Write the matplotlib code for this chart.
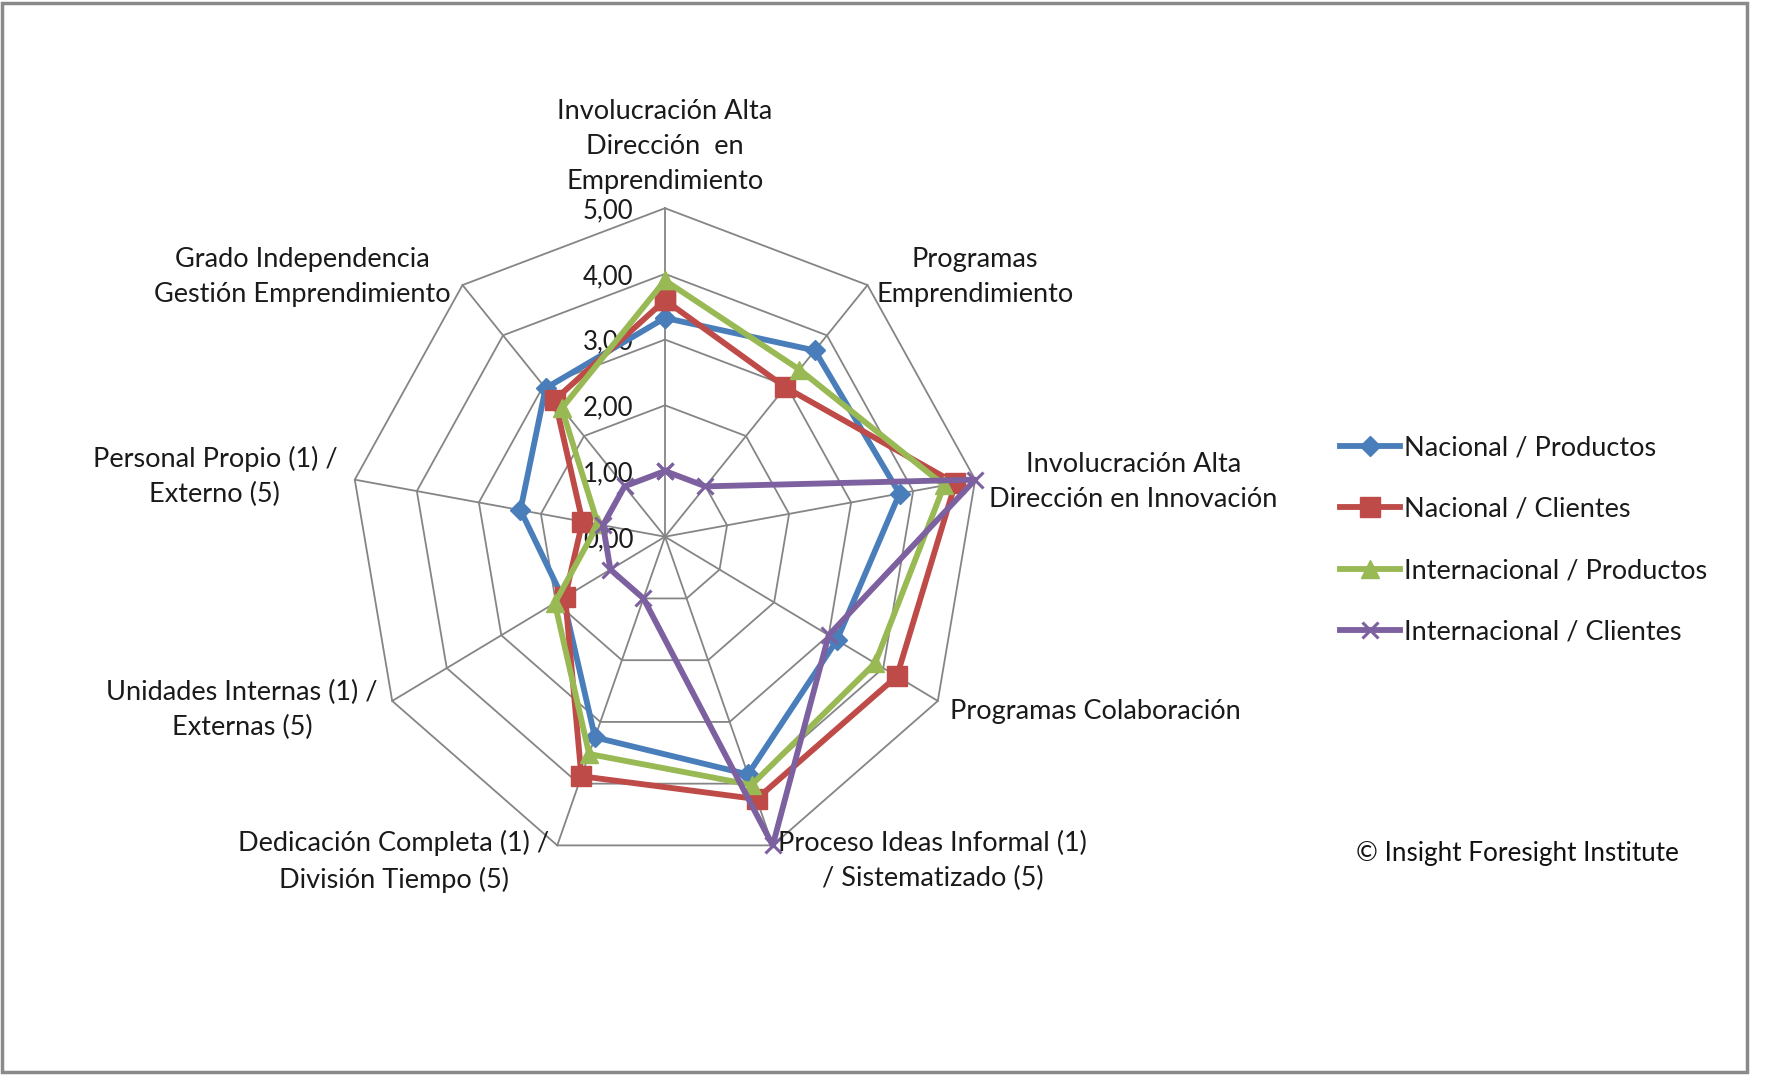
import numpy as np
import matplotlib
matplotlib.use('Agg')
import matplotlib.pyplot as plt
from matplotlib.patches import Rectangle

matplotlib.rcParams['font.family'] = ['Lato', 'DejaVu Sans']

# axes of the radar, clockwise from the top
categories = ["Involucración Alta\nDirección  en\nEmprendimiento",
              "Programas\nEmprendimiento",
              "Involucración Alta\nDirección en Innovación",
              "Programas Colaboración",
              "Proceso Ideas Informal (1)\n/ Sistematizado (5)",
              "Dedicación Completa (1) /\nDivisión Tiempo (5)",
              "Unidades Internas (1) /\nExternas (5)",
              "Personal Propio (1) /\nExterno (5)",
              "Grado Independencia\nGestión Emprendimiento"]

nacional_productos = [3.33, 3.70, 3.78, 3.15, 3.85, 3.25, 1.87, 2.33, 2.95]
nacional_clientes = [3.60, 2.97, 4.68, 4.25, 4.25, 3.88, 1.83, 1.33, 2.72]
internacional_productos = [3.90, 3.32, 4.50, 3.85, 4.02, 3.52, 2.02, 1.08, 2.55]
internacional_clientes = [1.00, 1.00, 5.00, 3.00, 5.00, 1.00, 1.00, 1.00, 1.00]

series_names = ["Nacional / Productos", "Nacional / Clientes",
                "Internacional / Productos", "Internacional / Clientes"]

ticks = [0, 1, 2, 3, 4, 5]
tick_labels = ["0,00", "1,00", "2,00", "3,00", "4,00", "5,00"]

W, H = 1779, 1075
cx, cy = 665, 538.3      # centre of the radar in pixels (from bottom-left)
ux, uy = 63.0, 65.7      # pixels per unit (picture is slightly stretched)

fig = plt.figure(figsize=(W/100, H/100), dpi=100)
ax = fig.add_axes([0, 0, 1, 1])
ax.set_xlim(-cx/ux, (W-cx)/ux)
ax.set_ylim(-cy/uy, (H-cy)/uy)
ax.axis('off')

n = len(categories)
ang = np.arange(n) * 2*np.pi/n
sx, sy = np.sin(ang), np.cos(ang)

def to_xy(vals):
    v = np.asarray(vals, dtype=float)
    x = v*sx
    y = v*sy
    return np.append(x, x[0]), np.append(y, y[0])

txt_c = '#1a1a1a'

# polygon grid + spokes
grid_c = '#858585'
for t in ticks[1:]:
    gx, gy = to_xy([t]*n)
    ax.plot(gx, gy, color=grid_c, lw=1.3, zorder=1)
for i in range(n):
    ax.plot([0, ticks[-1]*sx[i]], [0, ticks[-1]*sy[i]], color=grid_c, lw=1.3, zorder=1)

# tick labels along the top spoke
for t, lab in zip(ticks, tick_labels):
    ax.text(-0.5, t - 0.04, lab, ha='right', va='center', fontsize=18.5, color=txt_c, zorder=2)

styles = [
    dict(color='#4A7EBB', marker='D', ms=10),
    dict(color='#BE4B48', marker='s', ms=14.5),
    dict(color='#98B954', marker='^', ms=13.5),
    dict(color='#7D60A0', marker='x', ms=11.5, mew=2.2),
]
all_series = [nacional_productos, nacional_clientes, internacional_productos, internacional_clientes]
handles = []
for vals, st, name in zip(all_series, styles, series_names):
    px, py = to_xy(vals)
    h, = ax.plot(px, py, lw=4.2, label=name, zorder=3, **st)
    handles.append(h)

# category labels around the outside
lab_opts = [
    ('center', 'bottom', 0.0, 0.22),
    ('left', 'center', 0.14, 0.12),
    ('left', 'center', 0.22, -0.03),
    ('left', 'center', 0.19, -0.16),
    ('left', 'center', 0.09, -0.24),
    ('right', 'center', -0.13, -0.24),
    ('right', 'center', -0.23, -0.14),
    ('right', 'center', -0.28, 0.05),
    ('right', 'center', -0.19, 0.12),
]
R = ticks[-1]
for i, (lab, (ha, va, dx, dy)) in enumerate(zip(categories, lab_opts)):
    ax.text(R*sx[i] + dx, R*sy[i] + dy, lab, ha=ha, va=va, multialignment='center',
            fontsize=19.5, linespacing=1.5, color=txt_c)

leg = fig.legend(handles=handles, loc='center left',
                 bbox_to_anchor=(1340/W, 1 - 540/H), frameon=False,
                 fontsize=19.5, handlelength=2.2, handletextpad=0.15,
                 labelspacing=1.35, borderpad=0, borderaxespad=0)
for t in leg.get_texts():
    t.set_color(txt_c)

fig.text(1356/W, 1 - 854/H, "© Insight Foresight Institute", ha='left', va='center',
         fontsize=18.8, color='#111111')

# outer frame
fig.patches.append(Rectangle((2/W, 3/H), 1745/W, 1069/H, transform=fig.transFigure,
                             fill=False, ec='#8a8a8a', lw=2.5))

fig.savefig('out.png', dpi=100, facecolor='white')
